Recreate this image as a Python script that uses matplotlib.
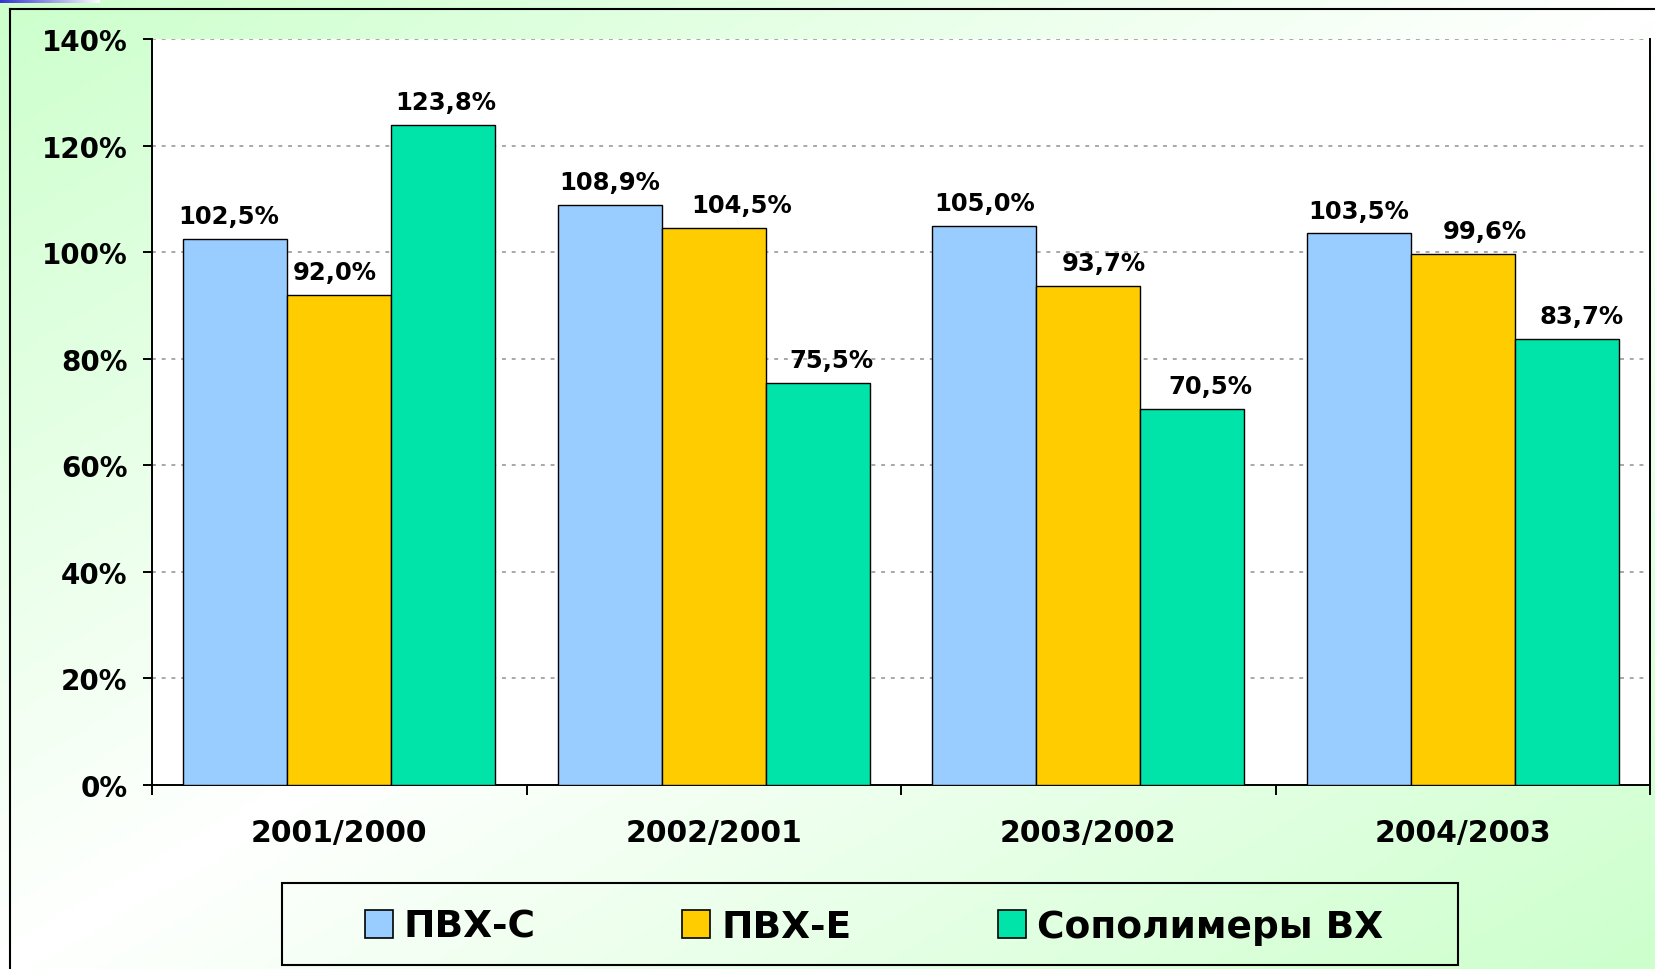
import numpy as np
import matplotlib
matplotlib.use('Agg')
import matplotlib.pyplot as plt
from matplotlib.patches import Rectangle, Patch
from matplotlib.lines import Line2D

# data
periods = ['2001/2000', '2002/2001', '2003/2002', '2004/2003']
series_names = ['ПВХ-С', 'ПВХ-Е', 'Сополимеры ВХ']
pvc_s = [102.5, 108.9, 105.0, 103.5]
pvc_e = [92.0, 104.5, 93.7, 99.6]
copolymers = [123.8, 75.5, 70.5, 83.7]
series = [pvc_s, pvc_e, copolymers]
colors = ['#99ccff', '#ffcc00', '#00e3a9']

# small horizontal nudges of the value labels (px), as placed in the original
label_dx = [[-7, 0, 0, 0], [-5, 28, 16, 22], [2, 14, 18, 15]]

W, H = 1656, 970
fig = plt.figure(figsize=(W / 100, H / 100), dpi=100)

# background: green corners, white along the other diagonal
bg = fig.add_axes([0, 0, 1, 1], zorder=-10)
xx, yy = np.meshgrid(np.linspace(0, 1, 400), np.linspace(0, 1, 240))
t = np.abs(xx + yy - 1)[..., None]
green = np.array([0.80, 1.0, 0.80])
white = np.array([1.0, 1.0, 1.0])
bg.imshow(white * (1 - t) + green * t, aspect='auto', extent=[0, 1, 0, 1], origin='upper')
bg.axis('off')

# small blue strip at the top-left corner
strip = fig.add_axes([0, 1 - 4 / H, 100 / W, 4 / H], zorder=-5)
g = np.linspace(0, 1, 100)[None, :, None]
strip.imshow(np.array([0.2, 0.2, 0.8]) * (1 - g) + white * g, aspect='auto')
strip.axis('off')

# outer frame lines
fig.add_artist(Line2D([10 / W, 10 / W], [0, 1 - 10 / H], color='black', lw=1.5))
fig.add_artist(Line2D([10 / W, 1], [1 - 10 / H, 1 - 10 / H], color='black', lw=1.5))

ax = fig.add_axes([152 / W, 1 - 786 / H, (1650 - 152) / W, (786 - 40) / H])
ax.set_facecolor('white')

x = np.arange(len(periods))
w = 1 / 3.6
for i, vals in enumerate(series):
    pos = x + (i - 1) * w
    ax.bar(pos, vals, width=w, color=colors[i], edgecolor='black', linewidth=1.0, zorder=3)
    for j, v in enumerate(vals):
        ax.annotate(f'{v:.1f}%'.replace('.', ','), (pos[j], v),
                    xytext=(label_dx[i][j] * 0.72, 11.5), textcoords='offset points',
                    ha='center', va='baseline', fontsize=17.5, fontweight='bold', zorder=4)

ax.set_xlim(-0.5, len(periods) - 0.5)
ax.set_ylim(0, 140)
yt = np.arange(0, 141, 20)
ax.set_yticks(yt)
ax.set_yticklabels([f'{v}%' for v in yt], fontsize=20, fontweight='bold')
ax.yaxis.grid(True, color='#a8a8a8', linestyle=(0, (2, 3)), linewidth=1.4, zorder=1)
ax.tick_params(axis='y', direction='out', length=6.5, width=1.4, pad=11)

# category boundaries as major ticks, names on minor ticks
ax.set_xticks(np.arange(-0.5, len(periods), 1))
ax.set_xticklabels([''] * (len(periods) + 1))
ax.set_xticks(x, minor=True)
ax.set_xticklabels(periods, minor=True, fontsize=21.5, fontweight='bold')
ax.tick_params(axis='x', which='major', direction='out', length=7, width=1.4)
ax.tick_params(axis='x', which='minor', length=0, pad=24)

ax.spines['top'].set_visible(False)
for s in ['left', 'right', 'bottom']:
    ax.spines[s].set_linewidth(1.4)

# legend box
fig.add_artist(Rectangle((282 / W, 1 - 966 / H), (1458 - 282) / W, (966 - 884) / H,
                         transform=fig.transFigure, fill=False, edgecolor='black', lw=1.5))
handles = [Patch(facecolor=c, edgecolor='black', linewidth=1.2) for c in colors]
fig.legend(handles, series_names, loc='center', bbox_to_anchor=(874 / W, 1 - 928 / H),
           ncol=3, frameon=False, prop={'size': 27, 'weight': 'bold'},
           handlelength=0.75, handleheight=0.75, handletextpad=0.3, columnspacing=3.9)

fig.savefig('out.png', dpi=100)
